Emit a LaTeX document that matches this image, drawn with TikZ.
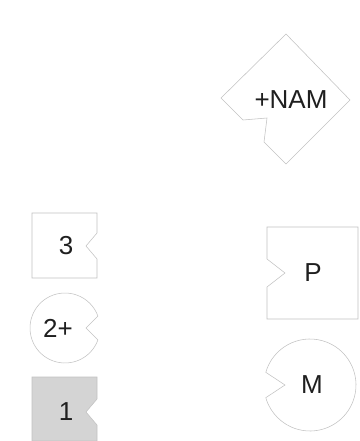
\documentclass[tikz,border=0pt]{standalone}
\usepackage{fontspec}
\setmainfont{Liberation Sans}
\usetikzlibrary{calc}
\begin{document}
\begin{tikzpicture}[x=1pt,y=-1pt,
  outline/.style={draw=black!24,line width=0.55pt,line join=miter},
  greybox/.style={outline,fill=black!17},
  lbl/.style={font=\fontsize{26}{30}\selectfont,text=black!88,inner sep=0pt}]
\useasboundingbox (0,0) rectangle (359,441);
% diamond +NAM
\draw[outline] (286,34) -- (350,100) -- (286,164) -- (264,142) -- (267,118) -- (243,120) -- (221,98) -- cycle;
\node[lbl] (nam) at (291,100) {+NAM};
% box 3
\draw[outline] (32,213) -- (97,213) -- (97,233) -- (86,246) -- (97,259) -- (97,278) -- (32,278) -- cycle;
\node[lbl] (three) at (66,246) {3};
% circle 2+
\draw[outline] ($(65,328)+(20:35)$) arc[start angle=20,end angle=340,radius=35] -- (86,328) -- cycle;
\node[lbl] (twoplus) at (58,328) {2+};
% grey box 1
\draw[greybox] (32,377) -- (97,377) -- (97,399) -- (86,412) -- (97,425) -- (97,441) -- (32,441) -- cycle;
\node[lbl] (one) at (66,412) {1};
% box P
\draw[outline] (267,227) -- (358,227) -- (358,319) -- (267,319) -- (267,287) -- (285,273) -- (267,259) -- cycle;
\node[lbl] (p) at (313,273) {P};
% circle M
\draw[outline] ($(310,385)+(196:46)$) arc[start angle=196,end angle=524,radius=46] -- (285,385) -- cycle;
\node[lbl] (m) at (312,385) {M};
\end{tikzpicture}
\end{document}
